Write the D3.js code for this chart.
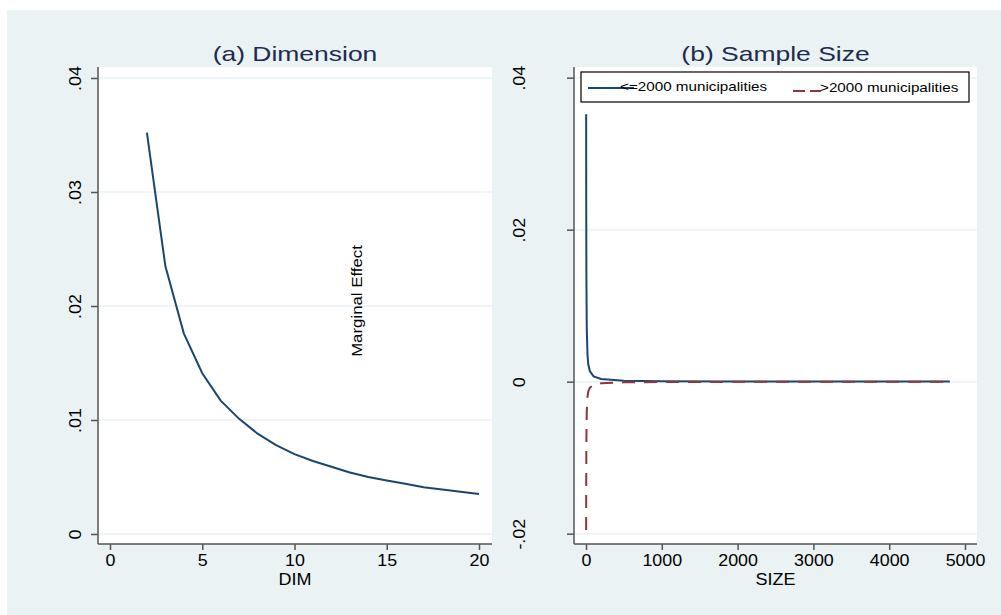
<!DOCTYPE html>
<html><head><meta charset="utf-8">
<script src="https://cdn.jsdelivr.net/npm/d3@7"></script>
<style>body{margin:0;background:#fff}svg{display:block}text{font-family:"Liberation Sans",Arial,sans-serif}</style>
</head><body>
<script>
// Panel (a): marginal effect by DIM
const dimValues = [2,3,4,5,6,7,8,9,10,11,12,13,14,15,16,17,18,19,20];
const dimEffect = [0.0352,0.0235,0.0176,0.0141,0.0117,0.0101,0.0088,0.0078,0.0070,0.0064,0.0059,0.0054,0.0050,0.0047,0.0044,0.0041,0.0039,0.0037,0.0035];
// Panel (b): marginal effect by SIZE
const sizeValues = [2,3,5,10,20,30,50,100,200,500,1000,2000,3000,4000,4800];
const smallEffect = [0.0352,0.0235,0.0141,0.0070,0.0035,0.0023,0.0014,0.0007,0.00035,0.00014,0.00007,0.00004,0.00002,0.00002,0.00001];
const largeEffect = [-0.0195,-0.0130,-0.0078,-0.0039,-0.0020,-0.0013,-0.0008,-0.0004,-0.0002,-0.00008,-0.00004,-0.00002,-0.00001,-0.00001,-0.00001];
const dimTicks = [0,5,10,15,20];
const dimYTicks = [0,0.01,0.02,0.03,0.04];
const dimYLabels = ["0",".01",".02",".03",".04"];
const sizeTicks = [0,1000,2000,3000,4000,5000];
const sizeYTicks = [-0.02,0,0.02,0.04];
const sizeYLabels = ["-.02","0",".02",".04"];
const legendLabels = ["<=2000 municipalities",">2000 municipalities"];

const W=1001,H=615;
const BG="#eaf2f3", BLUE="#1a476f", RED="#90353b", AX="#555", TITLE="#1c2b52";
const svg=d3.select("body").append("svg").attr("width",W).attr("height",H);
svg.append("rect").attr("x",7).attr("y",10).attr("width",W-7).attr("height",H-10).attr("fill",BG);

function stretch(sel,f){
  sel.each(function(){const L=this.getComputedTextLength();d3.select(this).attr("textLength",L*f).attr("lengthAdjust","spacingAndGlyphs");});
}

function panel(o){
  const g=svg.append("g");
  g.append("rect").attr("x",o.left).attr("y",o.top).attr("width",o.right-o.left).attr("height",o.bottom-o.top).attr("fill","#fff");
  g.selectAll(".grid").data(o.yTicks).join("line")
    .attr("x1",o.left).attr("x2",o.right).attr("y1",d=>o.y(d)).attr("y2",d=>o.y(d))
    .attr("stroke",BG).attr("stroke-width",1.5);
  const ya=g.append("g").attr("transform",`translate(${o.left},0)`)
    .call(d3.axisLeft(o.y).tickValues(o.yTicks).tickSize(7).tickFormat((d,i)=>o.yLabels[i]));
  ya.select(".domain").attr("d",`M0,${o.top}V${o.bottom}`).attr("stroke",AX).attr("stroke-width",1.5);
  ya.selectAll(".tick line").attr("stroke",AX).attr("stroke-width",1.5);
  const yt=ya.selectAll(".tick text").attr("x",null).attr("dy",null).attr("text-anchor","middle")
    .attr("transform",`translate(${o.yLabelX-o.left},0) rotate(-90)`).attr("y",0)
    .attr("font-size",17).attr("fill","#000").attr("font-family","Liberation Sans, Arial, sans-serif");
  stretch(yt,1.05);
  const xa=g.append("g").attr("transform",`translate(0,${o.bottom})`)
    .call(d3.axisBottom(o.x).tickValues(o.xTicks).tickSize(6).tickPadding(4).tickFormat(d3.format("d")));
  xa.select(".domain").attr("d",`M${o.left},0H${o.right}`).attr("stroke",AX).attr("stroke-width",1.5);
  xa.selectAll(".tick line").attr("stroke",AX).attr("stroke-width",1.5);
  const xt=xa.selectAll(".tick text").attr("font-size",17).attr("fill","#000").attr("font-family","Liberation Sans, Arial, sans-serif");
  stretch(xt,1.05);
  stretch(g.append("text").attr("x",(o.left+o.right)/2).attr("y",585).attr("text-anchor","middle").attr("font-size",16.5).text(o.xTitle),1.09);
  stretch(g.append("text").attr("x",(o.left+o.right)/2).attr("y",61).attr("text-anchor","middle").attr("font-size",21).attr("fill",TITLE).text(o.title),1.26);
  return g;
}

// Panel a
const xa=d3.scaleLinear().domain([0,20]).range([110,479]);
const ya=d3.scaleLinear().domain([0,0.04]).range([534,78]);
const ga=panel({left:98,right:492,top:67,bottom:544,x:xa,y:ya,xTicks:dimTicks,yTicks:dimYTicks,yLabels:dimYLabels,yLabelX:81,xTitle:"DIM",title:"(a) Dimension"});
ga.append("path").datum(dimValues.map((d,i)=>[d,dimEffect[i]]))
  .attr("d",d3.line().x(d=>xa(d[0])).y(d=>ya(d[1]))).attr("fill","none").attr("stroke",BLUE).attr("stroke-width",2);
stretch(ga.append("text").attr("transform","translate(362,301) rotate(-90)").attr("text-anchor","middle").attr("font-size",15).text("Marginal Effect"),1.12);

// Panel b
const xb=d3.scaleLinear().domain([0,5000]).range([586,965]);
const yb=d3.scaleLinear().domain([-0.02,0.04]).range([533.7,77.7]);
const gb=panel({left:574,right:977,top:67,bottom:544,x:xb,y:yb,xTicks:sizeTicks,yTicks:sizeYTicks,yLabels:sizeYLabels,yLabelX:525,xTitle:"SIZE",title:"(b) Sample Size"});
const lineB=d3.line().x(d=>xb(d[0])).y(d=>yb(d[1]));
gb.append("path").datum(sizeValues.map((d,i)=>[d,smallEffect[i]])).attr("d",lineB)
  .attr("fill","none").attr("stroke",BLUE).attr("stroke-width",2);
gb.append("path").datum(sizeValues.map((d,i)=>[d,largeEffect[i]])).attr("d",lineB)
  .attr("fill","none").attr("stroke",RED).attr("stroke-width",2).attr("stroke-dasharray","13,9");

// Legend
const lg=svg.append("g");
lg.append("rect").attr("x",581).attr("y",72).attr("width",388).attr("height",30).attr("fill","#fff").attr("stroke","#000").attr("stroke-width",1.2);
lg.append("line").attr("x1",588).attr("x2",634).attr("y1",88).attr("y2",88).attr("stroke",BLUE).attr("stroke-width",2);
stretch(lg.append("text").attr("x",620).attr("y",91).attr("font-size",13).text(legendLabels[0]),1.17);
lg.append("line").attr("x1",793).attr("x2",821).attr("y1",91).attr("y2",91).attr("stroke",RED).attr("stroke-width",2).attr("stroke-dasharray","12,5");
stretch(lg.append("text").attr("x",820).attr("y",92).attr("font-size",13).text(legendLabels[1]),1.17);
</script>
</body></html>
